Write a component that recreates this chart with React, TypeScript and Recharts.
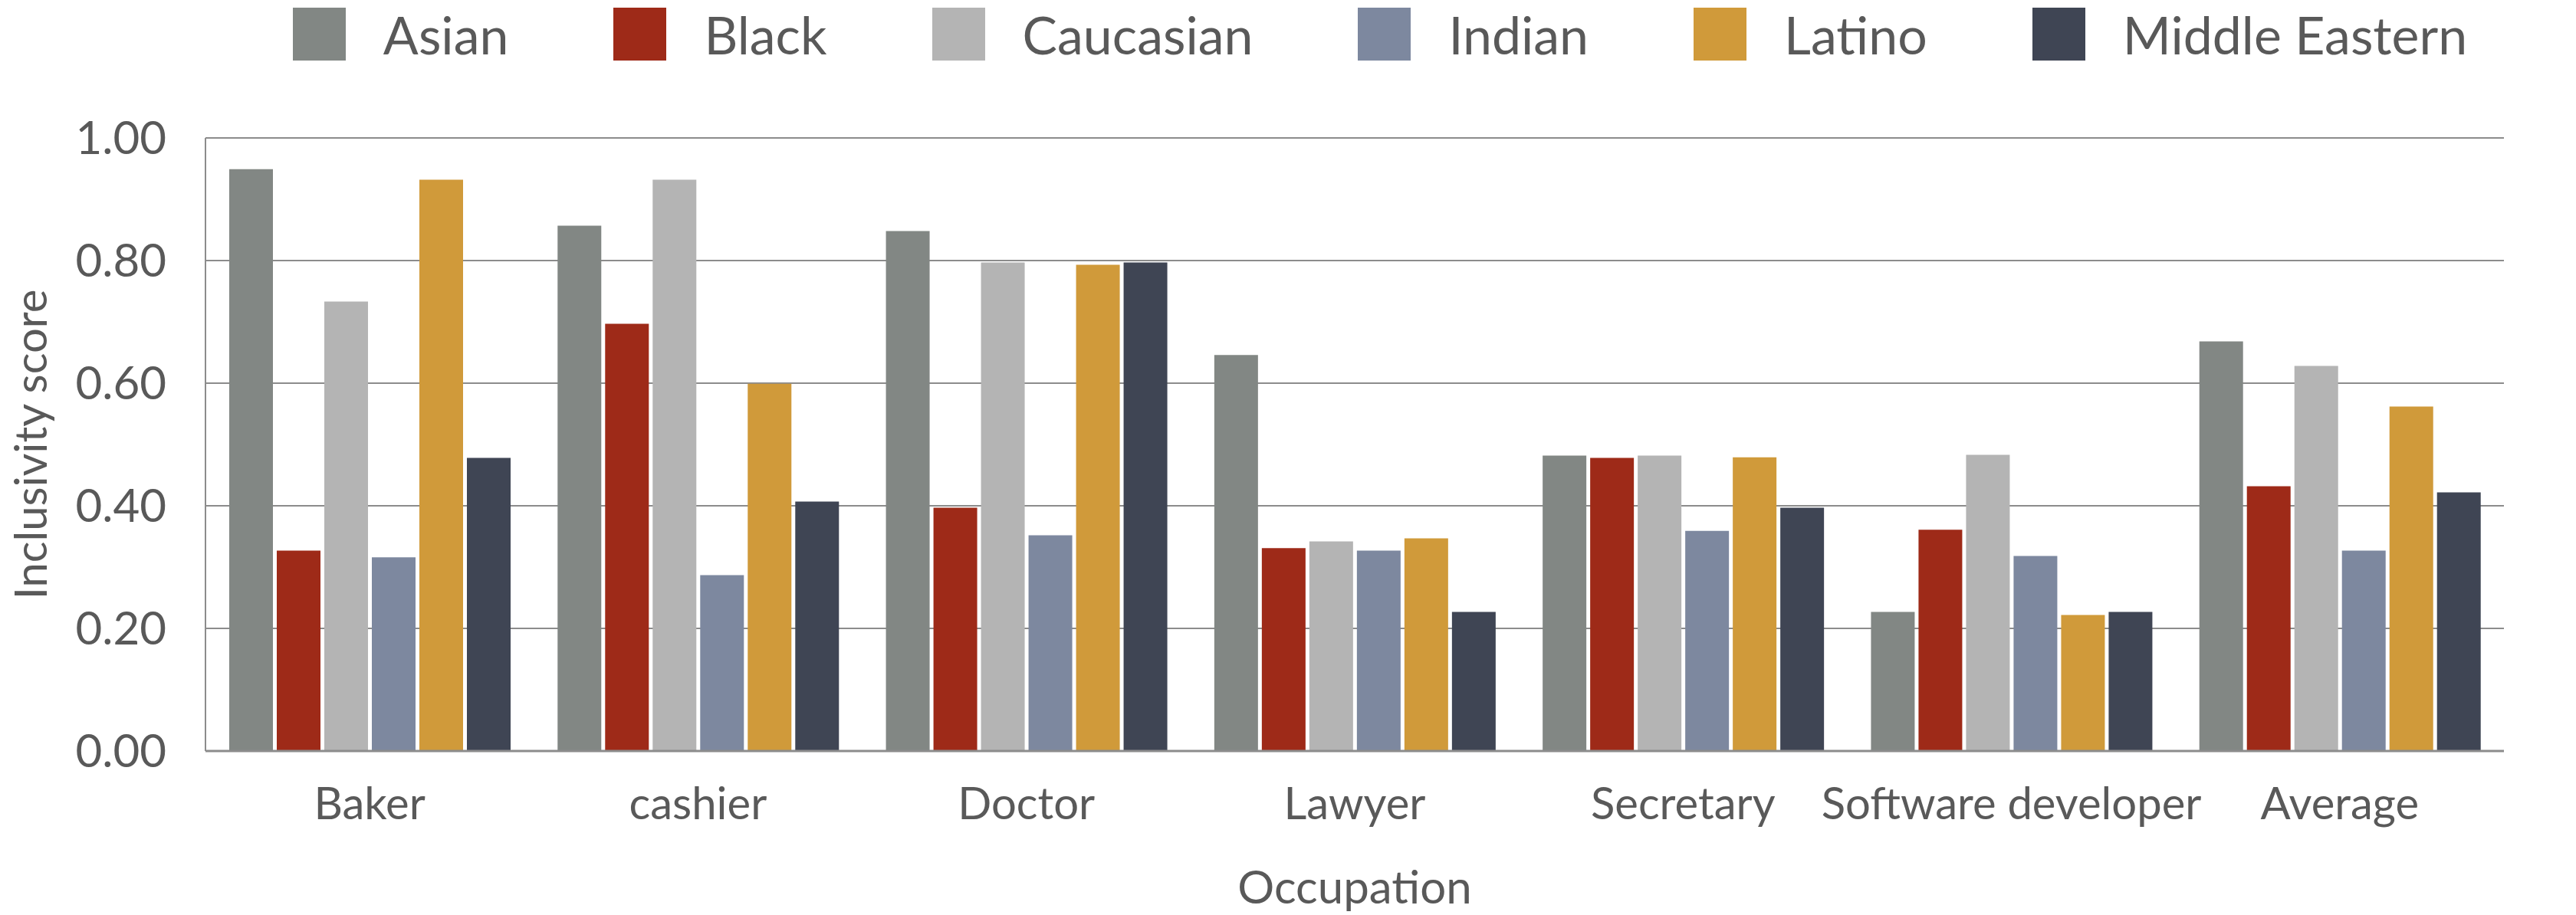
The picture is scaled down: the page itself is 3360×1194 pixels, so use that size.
import React from 'react'
import { BarChart, Bar, XAxis, YAxis, CartesianGrid, Legend } from 'recharts'

const occupations = ['Baker', 'cashier', 'Doctor', 'Lawyer', 'Secretary', 'Software developer', 'Average']

const asian = [0.949, 0.857, 0.848, 0.646, 0.482, 0.227, 0.668]
const black = [0.327, 0.697, 0.397, 0.331, 0.478, 0.361, 0.432]
const caucasian = [0.733, 0.932, 0.797, 0.342, 0.482, 0.483, 0.628]
const indian = [0.316, 0.287, 0.352, 0.327, 0.359, 0.318, 0.327]
const latino = [0.932, 0.599, 0.793, 0.347, 0.479, 0.222, 0.562]
const middleEastern = [0.478, 0.407, 0.797, 0.227, 0.397, 0.227, 0.422]

const yTicks = [0, 0.2, 0.4, 0.6, 0.8, 1.0]

const SERIES = [
  { key: 'Asian', values: asian, color: '#828784' },
  { key: 'Black', values: black, color: '#9e2a18' },
  { key: 'Caucasian', values: caucasian, color: '#b4b4b4' },
  { key: 'Indian', values: indian, color: '#7d889f' },
  { key: 'Latino', values: latino, color: '#d09a3a' },
  { key: 'Middle Eastern', values: middleEastern, color: '#3f4554' },
]

const FONT = 'Lato, "Open Sans", sans-serif'
const TEXT = '#595959'
const GRID = '#8c8c8c'

const data = occupations.map((name, i) => {
  const row: Record<string, string | number> = { name }
  for (const s of SERIES) row[s.key] = s.values[i]
  return row
})

function LegendContent() {
  return (
    <div style={{ display: 'flex', justifyContent: 'center', paddingLeft: 240, fontFamily: FONT }}>
      {SERIES.map((s, i) => (
        <div
          key={s.key}
          style={{ display: 'flex', alignItems: 'center', marginRight: i < SERIES.length - 1 ? 137 : 0 }}
        >
          <div style={{ width: 69, height: 69, background: s.color, marginRight: 49 }} />
          <span style={{ fontSize: 68, color: TEXT, lineHeight: '69px' }}>{s.key}</span>
        </div>
      ))}
    </div>
  )
}

export default function App() {
  return (
    <div style={{ position: 'absolute', left: 0, top: 0, background: '#fff' }}>
      <BarChart
        width={3360}
        height={1194}
        data={data}
        margin={{ top: 180, right: 94, bottom: 0, left: 0 }}
        barGap={5}
        barSize={57}
      >
        <CartesianGrid vertical={false} stroke={GRID} strokeWidth={2} />
        <XAxis
          dataKey="name"
          height={214}
          axisLine={{ stroke: GRID, strokeWidth: 3 }}
          tickLine={false}
          tickSize={6}
          tickMargin={42}
          interval={0}
          tick={{ fill: TEXT, fontSize: 58, fontFamily: FONT }}
          label={{
            value: 'Occupation',
            position: 'insideBottom',
            offset: 15,
            style: { fill: TEXT, fontSize: 60, fontFamily: FONT },
          }}
        />
        <YAxis
          width={268}
          domain={[0, 1]}
          ticks={yTicks}
          tickFormatter={(v: number) => v.toFixed(2)}
          axisLine={{ stroke: GRID, strokeWidth: 2 }}
          tickLine={false}
          tickSize={6}
          tickMargin={45}
          tick={{ fill: TEXT, fontSize: 60, fontFamily: FONT }}
          label={{
            value: 'Inclusivity score',
            angle: -90,
            position: 'insideLeft',
            offset: 40,
            style: { textAnchor: 'middle', fill: TEXT, fontSize: 58, fontFamily: FONT },
          }}
        />
        <Legend
          layout="horizontal"
          verticalAlign="middle"
          align="center"
          content={() => <LegendContent />}
          wrapperStyle={{ top: 10, left: 0, width: 3360 }}
        />
        {SERIES.map(s => (
          <Bar key={s.key} dataKey={s.key} fill={s.color} isAnimationActive={false} />
        ))}
      </BarChart>
    </div>
  )
}
